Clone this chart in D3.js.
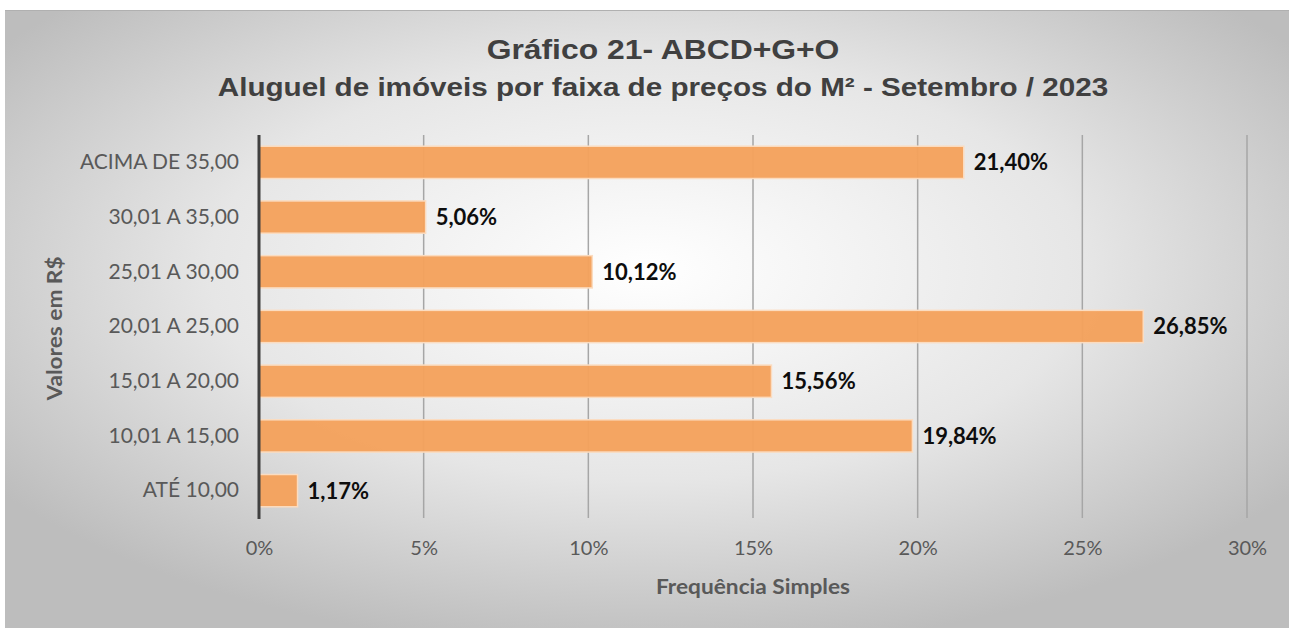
<!DOCTYPE html>
<html>
<head>
<meta charset="utf-8">
<script src="https://cdn.jsdelivr.net/npm/d3@7"></script>
<style>
  body { margin: 0; background: #ffffff; }
  svg { display: block; }
</style>
</head>
<body>
<div id="chart"></div>
<script>
// Faixas de preço do m² (de cima para baixo, como no gráfico)
var categories = ['ACIMA DE 35,00', '30,01 A 35,00', '25,01 A 30,00', '20,01 A 25,00',
                  '15,01 A 20,00', '10,01 A 15,00', 'ATÉ 10,00'];
// Frequência simples em %
var values = [21.40, 5.06, 10.12, 26.85, 15.56, 19.84, 1.17];
var xTicks = [0, 5, 10, 15, 20, 25, 30];

var titleText = 'Gráfico 21- ABCD+G+O';
var subtitleText = 'Aluguel de imóveis por faixa de preços do M² - Setembro / 2023';
var xTitle = 'Frequência Simples';
var yTitle = 'Valores em R$';

var svgWidth = 1289;
var svgHeight = 628;
var labelFont = 'Lato, "Open Sans", sans-serif';

var svg = d3.select('#chart').append('svg')
  .attr('width', svgWidth)
  .attr('height', svgHeight);

// fundo com gradiente radial (estilo Excel)
var defs = svg.append('defs');
var grad = defs.append('radialGradient')
  .attr('id', 'bg')
  .attr('cx', '50%').attr('cy', '42%').attr('r', '62%');
grad.append('stop').attr('offset', '0%').attr('stop-color', '#ffffff');
grad.append('stop').attr('offset', '55%').attr('stop-color', '#e6e6e6');
grad.append('stop').attr('offset', '100%').attr('stop-color', '#bdbdbd');

svg.append('rect')
  .attr('x', 5).attr('y', 10)
  .attr('width', svgWidth - 5).attr('height', svgHeight - 10)
  .attr('fill', 'url(#bg)');
svg.append('line')
  .attr('x1', 5).attr('x2', svgWidth)
  .attr('y1', 10.5).attr('y2', 10.5)
  .attr('stroke', '#b0b0b0').attr('stroke-width', 1);

var plotTop = 135;
var plotH = 383;

var xScale = d3.scaleLinear()
  .domain([0, 30])
  .range([259, 1247]);

var yScale = d3.scaleBand()
  .domain(categories)
  .range([plotTop, plotTop + plotH])
  .paddingInner(0.41)
  .paddingOuter(0.205);

// gridlines verticais
svg.append('g')
  .selectAll('line')
  .data(xTicks.slice(1))
  .enter()
  .append('line')
  .attr('x1', function(d) { return xScale(d); })
  .attr('x2', function(d) { return xScale(d); })
  .attr('y1', plotTop)
  .attr('y2', plotTop + plotH)
  .attr('stroke', '#a6a6a6')
  .attr('stroke-width', 1.5);

// barras
svg.append('g')
  .selectAll('rect')
  .data(values)
  .enter()
  .append('rect')
  .attr('x', xScale(0))
  .attr('y', function(d, i) { return yScale(categories[i]); })
  .attr('width', function(d) { return xScale(d) - xScale(0); })
  .attr('height', yScale.bandwidth())
  .attr('fill', '#f4a25d')
  .attr('fill-opacity', 0.97)
  .attr('stroke', '#fbdcc0')
  .attr('stroke-width', 1.5);

// eixo vertical (linha zero)
svg.append('line')
  .attr('x1', xScale(0)).attr('x2', xScale(0))
  .attr('y1', plotTop).attr('y2', plotTop + plotH + 1)
  .attr('stroke', '#404040')
  .attr('stroke-width', 3);

// rótulos das categorias
var yAxis = d3.axisLeft(yScale).tickSize(0).tickPadding(20);
var yG = svg.append('g')
  .attr('transform', 'translate(' + xScale(0) + ',0)')
  .call(yAxis);
yG.select('.domain').remove();
yG.selectAll('text')
  .attr('font-family', labelFont)
  .attr('font-size', 21)
  .attr('fill', '#595959');

// rótulos do eixo x
var xAxis = d3.axisBottom(xScale)
  .tickValues(xTicks)
  .tickSize(0)
  .tickPadding(23)
  .tickFormat(function(d) { return d + '%'; });
var xG = svg.append('g')
  .attr('transform', 'translate(0,' + (plotTop + plotH) + ')')
  .call(xAxis);
xG.select('.domain').remove();
xG.selectAll('text')
  .attr('font-family', labelFont)
  .attr('font-size', 20)
  .attr('fill', '#595959');

// rótulos de valor
var fmt = function(v) { return v.toFixed(2).replace('.', ',') + '%'; };
svg.append('g')
  .selectAll('text')
  .data(values)
  .enter()
  .append('text')
  .attr('x', function(d) { return xScale(d) + 10; })
  .attr('y', function(d, i) { return yScale(categories[i]) + yScale.bandwidth() / 2; })
  .attr('dy', '0.36em')
  .attr('font-family', labelFont)
  .attr('font-weight', 'bold')
  .attr('font-size', 22)
  .attr('fill', '#0d0d0d')
  .text(fmt);

// texto levemente esticado na horizontal, como no original
var stretched = function(x, y, sx, rot) {
  return 'translate(' + x + ',' + y + ')' + (rot ? ' rotate(' + rot + ')' : '') +
    ' scale(' + sx + ',1)';
};

// títulos
svg.append('text')
  .attr('transform', stretched(663, 59, 1.18))
  .attr('text-anchor', 'middle')
  .attr('font-family', '"Liberation Sans", Arial, sans-serif')
  .attr('font-weight', 'bold')
  .attr('font-size', 27)
  .attr('fill', '#404040')
  .text(titleText);

svg.append('text')
  .attr('transform', stretched(663, 96, 1.14))
  .attr('text-anchor', 'middle')
  .attr('font-family', '"Liberation Sans", Arial, sans-serif')
  .attr('font-weight', 'bold')
  .attr('font-size', 26)
  .attr('fill', '#404040')
  .text(subtitleText);

svg.append('text')
  .attr('transform', stretched(xScale(15), 594, 1.08))
  .attr('text-anchor', 'middle')
  .attr('font-family', labelFont)
  .attr('font-weight', 'bold')
  .attr('font-size', 21)
  .attr('fill', '#595959')
  .text(xTitle);

svg.append('text')
  .attr('transform', stretched(62, plotTop + plotH / 2 + 2, 1.08, -90))
  .attr('text-anchor', 'middle')
  .attr('font-family', labelFont)
  .attr('font-weight', 'bold')
  .attr('font-size', 21)
  .attr('fill', '#595959')
  .text(yTitle);
</script>
</body>
</html>
